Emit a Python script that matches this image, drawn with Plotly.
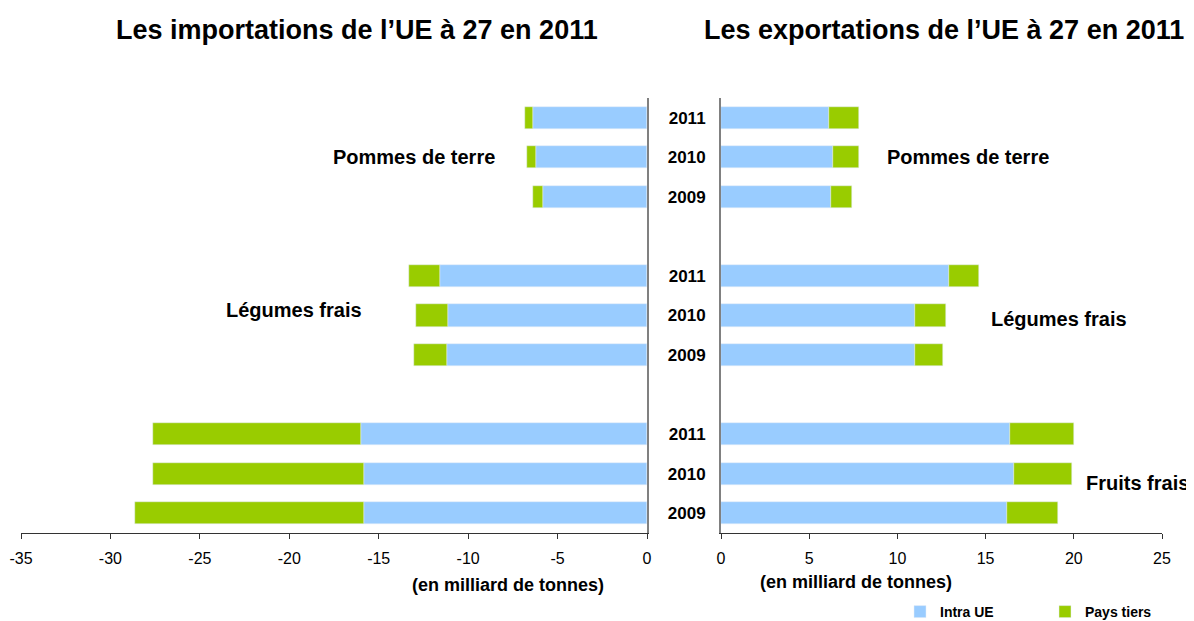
import plotly.graph_objects as go
from plotly.subplots import make_subplots

# Data (milliard de tonnes)
categories = ["Fruits frais", "Légumes frais", "Pommes de terre"]
years = ["2009", "2010", "2011"]
# row positions: each category group of 3 years, separated by an empty slot
row_pos = [0, 1, 2, 4, 5, 6, 8, 9, 10]
row_years = ["2009", "2010", "2011"] * 3

# Imports (shown as negative values), order: Fruits 2009..2011, Légumes 2009..2011, PdT 2009..2011
imp_intra = [15.8, 15.8, 16.0, 11.2, 11.1, 11.6, 5.8, 6.2, 6.4]
imp_tiers = [12.8, 11.8, 11.6, 1.8, 1.8, 1.7, 0.6, 0.5, 0.4]
# Exports
exp_intra = [16.2, 16.6, 16.4, 11.0, 11.0, 12.9, 6.25, 6.35, 6.1]
exp_tiers = [2.9, 3.3, 3.6, 1.6, 1.75, 1.75, 1.15, 1.5, 1.7]

left_ticks = list(range(-35, 1, 5))
left_ticktext = [str(v) for v in left_ticks]  # hyphen-minus, as in the reference
right_ticks = list(range(0, 26, 5))

BLUE = "#99CCFF"
GREEN = "#99CC00"
FONT = "Liberation Sans, Arial, sans-serif"

fig = make_subplots(rows=1, cols=2, horizontal_spacing=0.0)

fig.add_trace(go.Bar(y=row_pos, x=[-v for v in imp_intra], orientation="h", marker_color=BLUE,
                     name="Intra UE", width=0.56, showlegend=True), row=1, col=1)
fig.add_trace(go.Bar(y=row_pos, x=[-v for v in imp_tiers], orientation="h", marker_color=GREEN,
                     name="Pays tiers", width=0.56, showlegend=True), row=1, col=1)
fig.add_trace(go.Bar(y=row_pos, x=exp_intra, orientation="h", marker_color=BLUE,
                     name="Intra UE", width=0.56, showlegend=False), row=1, col=2)
fig.add_trace(go.Bar(y=row_pos, x=exp_tiers, orientation="h", marker_color=GREEN,
                     name="Pays tiers", width=0.56, showlegend=False), row=1, col=2)

# page is rendered with an 8px body margin
OFF = 8
W, H = 1194 - OFF, 621 - OFF
PL, PR, PT, PB = 21, 1162, 98, 533  # plot area in page pixels
ml, mt = PL - OFF, PT - OFF
mr = (W + OFF) - PR
mb = (H + OFF) - PB
pw = PR - PL
ph = PB - PT
left_end = (647 - PL) / pw
right_start = (721 - PL) / pw

tickfont = dict(family=FONT, size=16, color="black")
fig.update_layout(
    width=W, height=H, barmode="relative", bargap=0,
    plot_bgcolor="white", paper_bgcolor="white",
    margin=dict(l=ml, r=mr, t=mt, b=mb, autoexpand=False),
    font=dict(family=FONT, color="black"),
    xaxis=dict(domain=[0, left_end], range=[-35, 0], tickvals=left_ticks, ticktext=left_ticktext,
               showgrid=False, zeroline=False, showline=True, linecolor="#333", linewidth=1,
               ticks="outside", ticklen=5, tickcolor="#333", tickfont=tickfont,
               ticklabelstandoff=6),
    xaxis2=dict(domain=[right_start, 1], range=[0, 25], tickvals=right_ticks,
                showgrid=False, zeroline=False, showline=True, linecolor="#333", linewidth=1,
                ticks="outside", ticklen=5, tickcolor="#333", tickfont=tickfont,
                ticklabelstandoff=6),
    yaxis=dict(range=[-0.5, 10.5], showgrid=False, zeroline=False, showticklabels=False,
               showline=True, linecolor="#808080", linewidth=2, side="right"),
    yaxis2=dict(range=[-0.5, 10.5], showgrid=False, zeroline=False, tickvals=row_pos,
                ticktext=row_years, showline=True, linecolor="#808080", linewidth=2,
                tickfont=dict(family=FONT, size=17, color="black", weight="bold"),
                ticks="", ticklabelstandoff=10),
    legend=dict(orientation="h", x=(900 - PL) / pw, xanchor="left", y=-(612 - PB) / ph,
                yanchor="middle",
                font=dict(family=FONT, size=14, color="black", weight="bold"),
                entrywidth=100, itemwidth=30, traceorder="normal", bgcolor="rgba(0,0,0,0)"),
)

bold = lambda s: f"<b>{s}</b>"
cat_font = dict(family=FONT, size=20, color="black")
anns = [
    dict(xref="x", yref="y", x=-8.4, y=9, text=bold(categories[2]), xanchor="right"),
    dict(xref="x", yref="y", x=-15.8, y=5.15, text=bold(categories[1]), xanchor="right"),
    dict(xref="x", yref="y", x=-35.2, y=1.28, text=bold(categories[0]), xanchor="left"),
    dict(xref="x2", yref="y2", x=9.3, y=9, text=bold(categories[2]), xanchor="left"),
    dict(xref="x2", yref="y2", x=15.2, y=4.9, text=bold(categories[1]), xanchor="left"),
    dict(xref="x2", yref="y2", x=20.55, y=0.77, text=bold(categories[0]), xanchor="left"),
]
for a in anns:
    fig.add_annotation(**a, showarrow=False, yanchor="middle", font=cat_font)

title_font = dict(family=FONT, size=27, color="black")
fig.add_annotation(xref="paper", yref="paper", x=(357 - PL) / pw, y=1 + (PT - 30) / ph,
                   text=bold("Les importations de l\u2019UE à 27 en 2011"), showarrow=False,
                   xanchor="center", yanchor="middle", font=title_font)
fig.add_annotation(xref="paper", yref="paper", x=(944 - PL) / pw, y=1 + (PT - 30) / ph,
                   text=bold("Les exportations de l\u2019UE à 27 en 2011"), showarrow=False,
                   xanchor="center", yanchor="middle", font=title_font)

unit_font = dict(family=FONT, size=18, color="black")
fig.add_annotation(xref="paper", yref="paper", x=(508 - PL) / pw, y=-(585 - PB) / ph,
                   text=bold("(en milliard de tonnes)"), showarrow=False,
                   xanchor="center", yanchor="middle", font=unit_font)
fig.add_annotation(xref="paper", yref="paper", x=(856 - PL) / pw, y=-(582 - PB) / ph,
                   text=bold("(en milliard de tonnes)"), showarrow=False,
                   xanchor="center", yanchor="middle", font=unit_font)

fig.write_html("out.html")
